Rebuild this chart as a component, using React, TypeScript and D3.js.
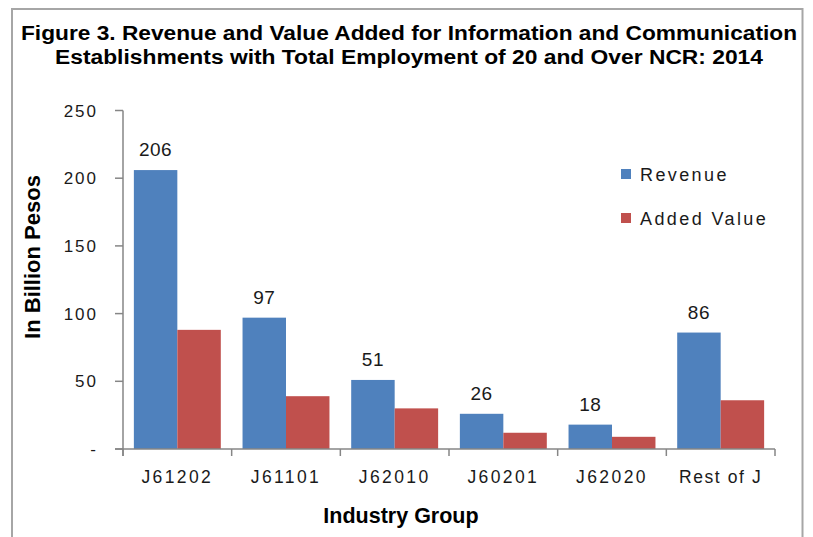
import React from "react";
import * as d3 from "d3";

const categories = ["J61202", "J61101", "J62010", "J60201", "J62020", "Rest of J"];
const revenue = [206, 97, 51, 26, 18, 86];
const addedValue = [88, 39, 30, 12, 9, 36];
const seriesNames = ["Revenue", "Added Value"];
const yTicks = [0, 50, 100, 150, 200, 250];
const titleLines = [
  "Figure 3. Revenue and Value Added for Information and Communication",
  "Establishments with Total Employment of 20 and Over NCR: 2014",
];
const titleWidths = [776, 708];

const W = 813;
const H = 537;
const colors = ["#4F81BD", "#C0504D"];
const font = "'Liberation Sans', Arial, sans-serif";

export default function App() {
  const x0 = 123;
  const x1 = 775;
  const x = d3.scaleBand<string>().domain(categories).range([x0, x1]).paddingInner(0.2).paddingOuter(0.1);
  const xs = d3.scaleBand<string>().domain(seriesNames).range([0, x.bandwidth()]);
  const y = d3.scaleLinear().domain([0, 250]).range([449, 110.5]);
  const series = [revenue, addedValue];
  const step = x.step();

  return (
    <svg width={W} height={H} style={{ position: "absolute", left: 0, top: 0, background: "#fff" }}>
      <rect x={0} y={0} width={W} height={H} fill="#fff" />
      <rect x={12} y={9} width={790.5} height={540} fill="none" stroke="#A6A6A6" strokeWidth={2} />
      {titleLines.map((t, i) => (
        <text
          key={i}
          x={409}
          y={39.5 + i * 24}
          textAnchor="middle"
          fontFamily={font}
          fontWeight="bold"
          fontSize={20}
          textLength={titleWidths[i]}
          lengthAdjust="spacingAndGlyphs"
          fill="#000"
        >
          {t}
        </text>
      ))}
      {/* bars */}
      {series.map((vals, si) =>
        categories.map((c, ci) => (
          <rect
            key={`${si}-${ci}`}
            x={(x(c) as number) + (xs(seriesNames[si]) as number)}
            y={y(vals[ci])}
            width={xs.bandwidth()}
            height={y(0) - y(vals[ci])}
            fill={colors[si]}
          />
        ))
      )}
      {/* data labels */}
      {categories.map((c, ci) => (
        <text
          key={`l${ci}`}
          x={(x(c) as number) + (xs(seriesNames[0]) as number) + xs.bandwidth() / 2}
          y={y(revenue[ci]) - 14}
          textAnchor="middle"
          fontFamily={font}
          fontSize={19}
          letterSpacing={0.5}
          fill="#1a1a1a"
        >
          {revenue[ci]}
        </text>
      ))}
      {/* y axis */}
      <line x1={x0} x2={x0} y1={y(250)} y2={y(0) + 7} stroke="#868686" strokeWidth={1.5} />
      {yTicks.map((t) => (
        <g key={t}>
          <line x1={115} x2={x0} y1={y(t)} y2={y(t)} stroke="#868686" strokeWidth={1.5} />
          <text x={98} y={y(t) + 6} textAnchor="end" fontFamily={font} fontSize={17} letterSpacing={2} fill="#1a1a1a">
            {t === 0 ? "-" : t}
          </text>
        </g>
      ))}
      {/* x axis */}
      <line x1={115} x2={x1} y1={y(0)} y2={y(0)} stroke="#868686" strokeWidth={1.5} />
      {d3.range(categories.length + 1).map((i) => (
        <line key={`t${i}`} x1={x0 + i * step} x2={x0 + i * step} y1={y(0)} y2={y(0) + 7} stroke="#868686" strokeWidth={1.5} />
      ))}
      {categories.map((c) => (
        <text
          key={c}
          x={(x(c) as number) + x.bandwidth() / 2}
          y={483}
          textAnchor="middle"
          fontFamily={font}
          fontSize={17.5}
          letterSpacing={c === "Rest of J" ? 1.6 : 2.4}
          fill="#1a1a1a"
        >
          {c}
        </text>
      ))}
      {/* axis titles */}
      <text x={401} y={523} textAnchor="middle" fontFamily={font} fontWeight="bold" fontSize={21.5} fill="#000">
        Industry Group
      </text>
      <text
        transform={`translate(40,257) rotate(-90)`}
        textAnchor="middle"
        fontFamily={font}
        fontWeight="bold"
        fontSize={22}
        fill="#000"
      >
        In Billion Pesos
      </text>
      {/* legend */}
      {seriesNames.map((s, i) => (
        <g key={s} transform={`translate(621, ${169 + i * 44})`}>
          <rect x={0} y={0} width={10} height={10} fill={colors[i]} />
          <text x={19} y={12} fontFamily={font} fontSize={18} letterSpacing={2.4} fill="#1a1a1a">
            {s}
          </text>
        </g>
      ))}
    </svg>
  );
}
